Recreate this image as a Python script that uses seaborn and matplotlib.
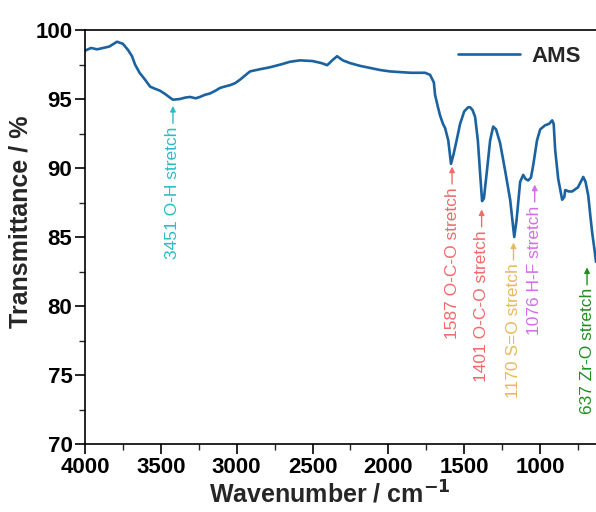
import numpy as np
import pandas as pd
import matplotlib
matplotlib.use("Agg")
import matplotlib.pyplot as plt
from matplotlib.ticker import MultipleLocator
import seaborn as sns

# --- data ---
wavenumber = [4000, 3960, 3920, 3880, 3840, 3789, 3750, 3716, 3690, 3670, 3640, 3604,
              3571, 3540, 3505, 3470, 3440, 3420, 3374, 3340, 3308, 3270, 3242, 3210,
              3176, 3140, 3110, 3080, 3044, 3010, 2978, 2945, 2912, 2850, 2780, 2710,
              2648, 2582, 2500, 2440, 2403, 2370, 2338, 2300, 2252, 2186, 2120, 2054,
              1990, 1923, 1850, 1758, 1725, 1700, 1692, 1675, 1659, 1640, 1626, 1605,
              1587, 1570, 1550, 1527, 1500, 1474, 1461, 1445, 1428, 1410, 1395, 1382,
              1370, 1350, 1329, 1309, 1290, 1263, 1230, 1197, 1180, 1170, 1155, 1131,
              1111, 1095, 1078, 1060, 1045, 1020, 999, 966, 940, 920, 910, 900, 880,
              854, 840, 834, 810, 788, 750, 715, 700, 682, 668, 656, 640, 631]
transmittance = [98.5, 98.7, 98.6, 98.7, 98.8, 99.15, 99.0, 98.55, 98.1, 97.5, 96.9, 96.4,
                 95.9, 95.75, 95.6, 95.35, 95.1, 94.95, 95.0, 95.1, 95.15, 95.05, 95.15, 95.3,
                 95.4, 95.6, 95.8, 95.9, 96.0, 96.15, 96.4, 96.7, 97.0, 97.15, 97.3, 97.5,
                 97.7, 97.8, 97.75, 97.6, 97.45, 97.8, 98.1, 97.8, 97.6, 97.4, 97.25, 97.1,
                 97.0, 96.95, 96.9, 96.9, 96.75, 96.2, 95.3, 94.5, 93.8, 93.2, 92.9, 92.0,
                 90.3, 91.0, 92.0, 93.2, 94.1, 94.4, 94.4, 94.2, 93.7, 92.0, 89.6, 87.6,
                 87.8, 89.8, 92.0, 93.0, 92.8, 91.8, 89.8, 87.7, 86.0, 85.0, 86.2, 89.0,
                 89.5, 89.2, 89.1, 89.3, 90.2, 92.0, 92.8, 93.1, 93.2, 93.45, 93.2, 91.3,
                 89.2, 87.7, 87.9, 88.4, 88.3, 88.3, 88.6, 89.35, 89.0, 88.0, 86.5, 85.3,
                 84.0, 83.2]

band_labels = ["3451 O-H stretch", "1587 O-C-O stretch", "1401 O-C-O stretch",
               "1170 S=O stretch", "1076 H-F stretch", "637 Zr-O stretch"]
band_x = [3420, 1580, 1385, 1175, 1035, 690]
band_tip = [94.5, 90.1, 87.0, 84.6, 88.8, 82.8]
band_colors = ["#2bbcc4", "#f06b6b", "#f06b6b", "#e9b862", "#d46de9", "#1f8f1f"]

df = pd.DataFrame({"Wavenumber": wavenumber, "Transmittance": transmittance})

sns.set_theme(style="ticks")
plt.rcParams["font.family"] = ["Liberation Sans", "DejaVu Sans"]

fig = plt.figure(figsize=(5.96, 5.12), dpi=100)
ax = fig.add_axes([0.1426, 0.1328, 0.8574, 0.8086])

sns.lineplot(data=df, x="Wavenumber", y="Transmittance", ax=ax, color="#1a62a0",
             linewidth=1.9, label="AMS")

# annotations: rotated text with a short arrow pointing up to the band
for lab, bx, tip, col in zip(band_labels, band_x, band_tip, band_colors):
    ax.annotate(lab, xy=(bx, tip), xytext=(bx, tip - 1.5), color=col, fontsize=12.5,
                rotation=90, ha="center", va="top",
                arrowprops=dict(arrowstyle="-|>", color=col, lw=1.0,
                                shrinkA=0, shrinkB=0, mutation_scale=8))

ax.set_xlim(4000, 631)
ax.set_ylim(70, 100)
ax.xaxis.set_major_locator(MultipleLocator(500))
ax.xaxis.set_minor_locator(MultipleLocator(250))
ax.yaxis.set_major_locator(MultipleLocator(5))
ax.yaxis.set_minor_locator(MultipleLocator(2.5))
ax.tick_params(which="major", direction="out", length=7, width=1.2, labelsize=16,
               colors="black", pad=2)
ax.tick_params(which="minor", direction="out", length=4, width=1.0)
for t in ax.get_xticklabels() + ax.get_yticklabels():
    t.set_fontweight("bold")

for side in ["left", "bottom", "top"]:
    ax.spines[side].set_color("black")
    ax.spines[side].set_linewidth(1.2)
ax.spines["right"].set_visible(False)

ax.set_xlabel("Wavenumber / cm$^{\\mathbf{-1}}$", fontsize=18, fontweight="bold")
ax.set_ylabel("Transmittance / %", fontsize=18, fontweight="bold")
ax.xaxis.set_label_coords(0.48, -0.09)
ax.yaxis.set_label_coords(-0.102, 0.536)

leg = ax.legend(loc="upper right", frameon=False, fontsize=16, handlelength=2.8,
                borderaxespad=0.3, handletextpad=0.5)
for t in leg.get_texts():
    t.set_fontweight("bold")

fig.savefig("out.png", dpi=100)
